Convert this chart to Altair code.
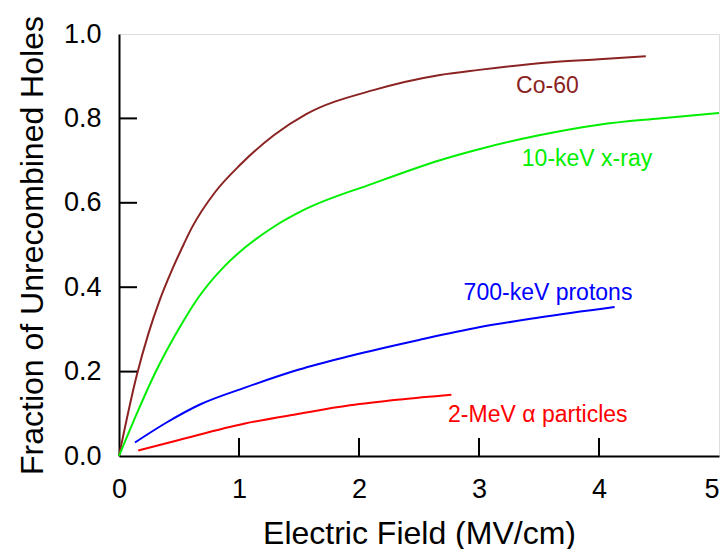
import altair as alt
import pandas as pd

co_x = [0, 0.147, 0.245, 0.34, 0.44, 0.52, 0.605, 0.80, 1.01, 1.29, 1.56, 2.12, 2.675, 3.0, 3.6, 4.0, 4.39]
co_y = [0, 0.19, 0.29, 0.37, 0.44, 0.49, 0.54, 0.625, 0.69, 0.76, 0.81, 0.867, 0.903, 0.915, 0.933, 0.94, 0.947]

xr_x = [0, 0.16, 0.30, 0.494, 0.66, 0.88, 1.05, 1.3, 1.54, 2.12, 2.675, 3.0, 3.5, 4.0, 4.5, 5.0]
xr_y = [0, 0.108, 0.196, 0.299, 0.375, 0.45, 0.494, 0.545, 0.583, 0.646, 0.701, 0.727, 0.76, 0.785, 0.80, 0.813]

pr_x = [0.133, 0.4, 0.675, 1.05, 1.5, 1.925, 2.5, 3.0, 3.5, 4.13]
pr_y = [0.032, 0.08, 0.122, 0.162, 0.205, 0.237, 0.275, 0.305, 0.328, 0.353]

al_x = [0.16, 0.5, 1.05, 1.5, 1.925, 2.35, 2.77]
al_y = [0.013, 0.038, 0.077, 0.10, 0.12, 0.134, 0.145]

series = ["Co-60", "10-keV x-ray", "700-keV protons", "2-MeV \u03b1 particles"]
colors = ["#8B2323", "#00EE00", "#0000FF", "#FF0000"]
label_x = [3.57, 3.9, 3.575, 3.49]
label_y = [0.877, 0.704, 0.386, 0.097]

x_ticks = [1, 2, 3, 4]
y_ticks = [0.2, 0.4, 0.6, 0.8]

rows = []
for name, xs, ys in zip(series, [co_x, xr_x, pr_x, al_x], [co_y, xr_y, pr_y, al_y]):
    for i, (a, b) in enumerate(zip(xs, ys)):
        rows.append({"series": name, "x": a, "y": b, "order": i})
df = pd.DataFrame(rows)
labels = pd.DataFrame({"series": series, "x": label_x, "y": label_y})

W, H = 600, 422
FONT = "Liberation Sans"

xs = alt.Scale(domain=[0, 5], nice=False)
ys = alt.Scale(domain=[0, 1], nice=False)
cs = alt.Scale(domain=series, range=colors)

lines = alt.Chart(df).mark_line(strokeWidth=2, interpolate="monotone").encode(
    x=alt.X("x:Q", scale=xs, axis=alt.Axis(
        title="Electric Field (MV/cm)", values=[0, 1, 2, 3, 4, 5], format="d",
        ticks=False, grid=False, domainColor="black", domainWidth=2,
        labelFontSize=27, labelFont=FONT, labelColor="black", labelPadding=20,
        labelAlign={"condition": {"test": "datum.value == 5", "value": "right"}, "value": "center"},
        titleFontSize=32, titleFont=FONT, titleFontWeight="normal", titleColor="black",
        titlePadding=16, labelFlush=False)),
    y=alt.Y("y:Q", scale=ys, axis=alt.Axis(
        title="Fraction of Unrecombined Holes", values=[0, 0.2, 0.4, 0.6, 0.8, 1.0], format=".1f",
        ticks=False, grid=False, domainColor="black", domainWidth=2,
        labelFontSize=27, labelFont=FONT, labelColor="black", labelPadding=18,
        titleFontSize=32, titleFont=FONT, titleFontWeight="normal", titleColor="black",
        titlePadding=14, labelFlush=False)),
    color=alt.Color("series:N", scale=cs, legend=None),
    order="order:Q",
    detail="series:N",
)

texts = alt.Chart(labels).mark_text(fontSize=23, font=FONT).encode(
    x=alt.X("x:Q", scale=xs),
    y=alt.Y("y:Q", scale=ys),
    text="series:N",
    color=alt.Color("series:N", scale=cs, legend=None),
)

xt = alt.Chart(pd.DataFrame({"t": x_ticks})).mark_rule(color="black", strokeWidth=2).encode(
    x=alt.X("t:Q", scale=xs), y=alt.value(H), y2=alt.value(H - 18))
yt = alt.Chart(pd.DataFrame({"t": y_ticks})).mark_rule(color="black", strokeWidth=2).encode(
    y=alt.Y("t:Q", scale=ys), x=alt.value(0), x2=alt.value(18))

chart = alt.layer(lines, texts, xt, yt).properties(
    width=W, height=H,
    autosize=alt.AutoSizeParams(type="none"),
    padding={"left": 111, "top": 26, "right": 1, "bottom": 93},
).configure_view(stroke="black", strokeWidth=2).configure(background="white")

chart.save("out.html", embed_options={"renderer": "svg", "actions": False})
